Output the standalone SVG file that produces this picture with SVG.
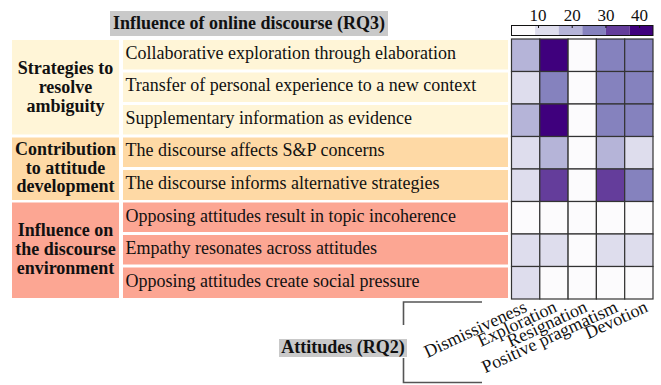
<svg xmlns="http://www.w3.org/2000/svg" width="661" height="385" viewBox="0 0 661 385">
<style>
.bold{font-family:"Liberation Serif","Times New Roman",serif;font-weight:bold;font-size:18px;fill:#111}
.reg{font-family:"Liberation Serif","Times New Roman",serif;font-size:17px;fill:#111}
.item{font-family:"Liberation Serif","Times New Roman",serif;font-size:18px;fill:#111}
.cat{text-anchor:middle}
.c1{fill:#fff5d7}
.c2{fill:#fed9a5}
.c3{fill:#fca693}
.gray{fill:#c9c9c9}
.cell{stroke:#333;stroke-width:1.2}
.l0{fill:#fcfbfd}.l1{fill:#dedded}.l2{fill:#b5b4d8}.l3{fill:#8582be}.l4{fill:#643d9b}.l5{fill:#3f007d}
.br{stroke:#555;stroke-width:1.6;fill:none}
</style>
<rect width="661" height="385" fill="#ffffff"/>
<g id="title">
<rect class="gray" x="110" y="11" width="278" height="25"/>
<text class="bold cat" x="249" y="29">Influence of online discourse (RQ3)</text>
</g>
<g id="cat-strategies">
<rect class="c1" x="12" y="40" width="107" height="94.5"/>
<text class="bold cat" x="65.5" y="73.5">Strategies to</text>
<text class="bold cat" x="65.5" y="92.5">resolve</text>
<text class="bold cat" x="65.5" y="111.5">ambiguity</text>
</g>
<g id="cat-contribution">
<rect class="c2" x="12" y="137.5" width="107" height="62.5"/>
<text class="bold cat" x="65.5" y="155">Contribution</text>
<text class="bold cat" x="65.5" y="173.5">to attitude</text>
<text class="bold cat" x="65.5" y="192">development</text>
</g>
<g id="cat-influence">
<rect class="c3" x="12" y="202.5" width="107" height="95.5"/>
<text class="bold cat" x="65.5" y="236">Influence on</text>
<text class="bold cat" x="65.5" y="255">the discourse</text>
<text class="bold cat" x="65.5" y="274">environment</text>
</g>
<g id="item1"><rect class="c1" x="123" y="40" width="385" height="29.5"/><text class="item" x="125.5" y="58.5">Collaborative exploration through elaboration</text></g>
<g id="item2"><rect class="c1" x="123" y="72.5" width="385" height="29.5"/><text class="item" x="125.5" y="91">Transfer of personal experience to a new context</text></g>
<g id="item3"><rect class="c1" x="123" y="105" width="385" height="29.5"/><text class="item" x="125.5" y="123.5">Supplementary information as evidence</text></g>
<g id="item4"><rect class="c2" x="123" y="137.5" width="385" height="29.5"/><text class="item" x="125.5" y="156">The discourse affects S&amp;P concerns</text></g>
<g id="item5"><rect class="c2" x="123" y="170" width="385" height="30"/><text class="item" x="125.5" y="188.5">The discourse informs alternative strategies</text></g>
<g id="item6"><rect class="c3" x="123" y="202.5" width="385" height="29.5"/><text class="item" x="125.5" y="221.5">Opposing attitudes result in topic incoherence</text></g>
<g id="item7"><rect class="c3" x="123" y="235" width="385" height="29.5"/><text class="item" x="125.5" y="254">Empathy resonates across attitudes</text></g>
<g id="item8"><rect class="c3" x="123" y="267.5" width="385" height="30.5"/><text class="item" x="125.5" y="286.5">Opposing attitudes create social pressure</text></g>
<g id="heatmap">
<g transform="translate(511.5,39)">
<rect class="cell l2" x="0" y="0" width="28.3" height="32.5"/><rect class="cell l5" x="28.3" y="0" width="28.3" height="32.5"/><rect class="cell l0" x="56.6" y="0" width="28.3" height="32.5"/><rect class="cell l3" x="84.9" y="0" width="28.3" height="32.5"/><rect class="cell l3" x="113.2" y="0" width="28.3" height="32.5"/>
<rect class="cell l1" x="0" y="32.5" width="28.3" height="32.5"/><rect class="cell l3" x="28.3" y="32.5" width="28.3" height="32.5"/><rect class="cell l0" x="56.6" y="32.5" width="28.3" height="32.5"/><rect class="cell l3" x="84.9" y="32.5" width="28.3" height="32.5"/><rect class="cell l3" x="113.2" y="32.5" width="28.3" height="32.5"/>
<rect class="cell l2" x="0" y="65" width="28.3" height="32.5"/><rect class="cell l5" x="28.3" y="65" width="28.3" height="32.5"/><rect class="cell l0" x="56.6" y="65" width="28.3" height="32.5"/><rect class="cell l3" x="84.9" y="65" width="28.3" height="32.5"/><rect class="cell l3" x="113.2" y="65" width="28.3" height="32.5"/>
<rect class="cell l1" x="0" y="97.5" width="28.3" height="32.5"/><rect class="cell l2" x="28.3" y="97.5" width="28.3" height="32.5"/><rect class="cell l0" x="56.6" y="97.5" width="28.3" height="32.5"/><rect class="cell l2" x="84.9" y="97.5" width="28.3" height="32.5"/><rect class="cell l1" x="113.2" y="97.5" width="28.3" height="32.5"/>
<rect class="cell l1" x="0" y="130" width="28.3" height="32.5"/><rect class="cell l4" x="28.3" y="130" width="28.3" height="32.5"/><rect class="cell l0" x="56.6" y="130" width="28.3" height="32.5"/><rect class="cell l4" x="84.9" y="130" width="28.3" height="32.5"/><rect class="cell l3" x="113.2" y="130" width="28.3" height="32.5"/>
<rect class="cell l0" x="0" y="162.5" width="28.3" height="32.5"/><rect class="cell l0" x="28.3" y="162.5" width="28.3" height="32.5"/><rect class="cell l0" x="56.6" y="162.5" width="28.3" height="32.5"/><rect class="cell l0" x="84.9" y="162.5" width="28.3" height="32.5"/><rect class="cell l0" x="113.2" y="162.5" width="28.3" height="32.5"/>
<rect class="cell l1" x="0" y="195" width="28.3" height="32.5"/><rect class="cell l1" x="28.3" y="195" width="28.3" height="32.5"/><rect class="cell l0" x="56.6" y="195" width="28.3" height="32.5"/><rect class="cell l1" x="84.9" y="195" width="28.3" height="32.5"/><rect class="cell l1" x="113.2" y="195" width="28.3" height="32.5"/>
<rect class="cell l1" x="0" y="227.5" width="28.3" height="32.5"/><rect class="cell l0" x="28.3" y="227.5" width="28.3" height="32.5"/><rect class="cell l0" x="56.6" y="227.5" width="28.3" height="32.5"/><rect class="cell l0" x="84.9" y="227.5" width="28.3" height="32.5"/><rect class="cell l0" x="113.2" y="227.5" width="28.3" height="32.5"/>
</g>
</g>
<g id="colorbar">
<rect class="l0" x="511.5" y="25.5" width="23.6" height="10"/>
<rect class="l1" x="535.1" y="25.5" width="23.6" height="10"/>
<rect class="l2" x="558.7" y="25.5" width="23.6" height="10"/>
<rect class="l3" x="582.3" y="25.5" width="23.6" height="10"/>
<rect class="l4" x="605.9" y="25.5" width="23.6" height="10"/>
<rect class="l5" x="629.5" y="25.5" width="23.5" height="10"/>
<rect x="511.5" y="25.5" width="141.5" height="10" fill="none" stroke="#111" stroke-width="1"/>
<g stroke="#111" stroke-width="1">
<line x1="538.5" y1="25.5" x2="538.5" y2="28"/>
<line x1="572.2" y1="25.5" x2="572.2" y2="28"/>
<line x1="605.9" y1="25.5" x2="605.9" y2="28"/>
<line x1="639.6" y1="25.5" x2="639.6" y2="28"/>
</g>
<text class="reg cat" x="538" y="20.5">10</text>
<text class="reg cat" x="572.2" y="20.5">20</text>
<text class="reg cat" x="605.9" y="20.5">30</text>
<text class="reg cat" x="639.6" y="20.5">40</text>
</g>
<g id="attitude-labels" class="item" text-anchor="end">
<text transform="translate(528,311) rotate(-25)">Dismissiveness</text>
<text transform="translate(558,311) rotate(-25)">Exploration</text>
<text transform="translate(588.5,311) rotate(-25)">Resignation</text>
<text transform="translate(619,311) rotate(-25)">Positive pragmatism</text>
<text transform="translate(649,311) rotate(-25)">Devotion</text>
</g>
<g id="attitudes-title">
<rect class="gray" x="279" y="339" width="128" height="18"/>
<text class="bold cat" x="343" y="353">Attitudes (RQ2)</text>
</g>
<g id="connectors">
<path class="br" d="M482,302 H403.5 V325"/>
<path class="br" d="M403.5,358 V382.5 H482"/>
</g>
</svg>
